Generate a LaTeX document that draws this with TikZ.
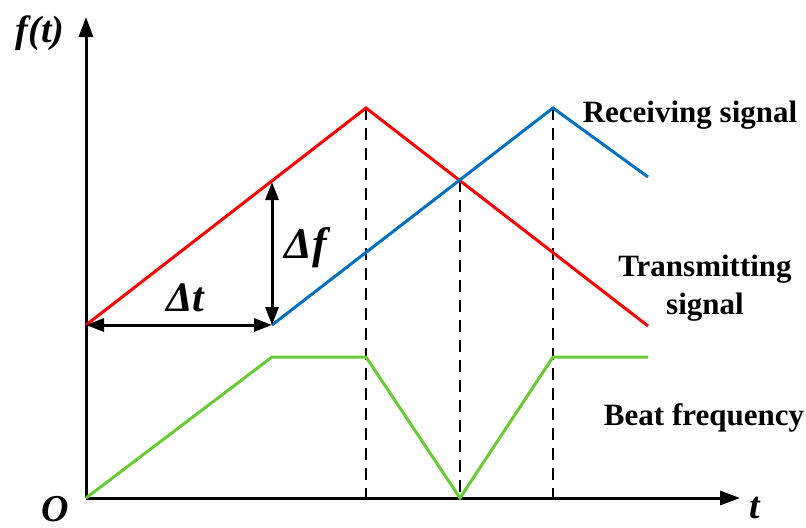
\documentclass[tikz,border=0pt]{standalone}
\usepackage{fontspec}
\setmainfont{Liberation Serif}
\usetikzlibrary{arrows.meta,calc}
\definecolor{txred}{RGB}{255,0,0}
\definecolor{rxblue}{RGB}{0,112,192}
\definecolor{beatgreen}{RGB}{102,204,51}

\begin{document}
\begin{tikzpicture}[x=0.5pt,y=0.5pt,>={Triangle[length=10pt,width=7pt]},
  sig/.style={line width=1.5pt},
  guide/.style={line width=1pt,dash pattern=on 6pt off 4pt},
  lbl/.style={font=\fontsize{15.5}{17}\selectfont\bfseries,align=center},
  sym/.style={font=\fontsize{19}{21}\selectfont\bfseries\itshape,inner sep=0pt}]
  \useasboundingbox (-86,-29) rectangle (720,498);
  % axes
  \coordinate (O) at (0,0);
  \coordinate (ytip) at (0,481);
  \coordinate (xtip) at (654,0);
  \draw[line width=1.5pt,->] (O) -- (ytip);
  \draw[line width=1.5pt,->] (O) -- (xtip);
  \node[sym] (fl) at (-46,465) {f(t)};
  \node[sym] (ol) at (-31,-11) {O};
  \node[sym] (tl) at (669,-10) {t};
  % signal corners
  \coordinate (txs) at (0,173);
  \coordinate (txp) at (280,390);
  \coordinate (txe) at (562,172);
  \coordinate (rxs) at (186,173);
  \coordinate (rxp) at (467,390);
  \coordinate (rxe) at (562,321);
  \coordinate (cross) at (374,318);
  \coordinate (df) at (186,316);
  % dashed guides
  \draw[guide] (txp) -- (txp |- O);
  \draw[guide] (cross) -- (cross |- O);
  \draw[guide] (rxp) -- (rxp |- O);
  % signals
  \draw[sig,txred] (txs) -- (txp) -- (txe);
  \draw[sig,rxblue] (rxs) -- (rxp) -- (rxe);
  \draw[sig,beatgreen] (O) -- (186,141) -- (280,141) -- (cross |- O)
    -- (467,141) -- (562,141);
  % delays
  \draw[line width=1.5pt,<->,>={Triangle[length=9pt,width=6.5pt]}] (txs) -- (rxs);
  \draw[line width=1.5pt,<->,>={Triangle[length=9pt,width=6.5pt]}] (df) -- (rxs);
  \node[sym,font=\fontsize{21}{23}\selectfont\bfseries\itshape] (dtl) at (99,200) {Δt};
  \node[sym,font=\fontsize{22}{24}\selectfont\bfseries\itshape] (dfl) at (220,250) {Δf};
  % legend texts
  \node[lbl] (rxl) at (604,383) {Receiving signal};
  \node[lbl] (txl) at (619,210) {Transmitting\\[2pt]signal};
  \node[lbl] (bfl) at (618,80) {Beat frequency};
\end{tikzpicture}
\end{document}
